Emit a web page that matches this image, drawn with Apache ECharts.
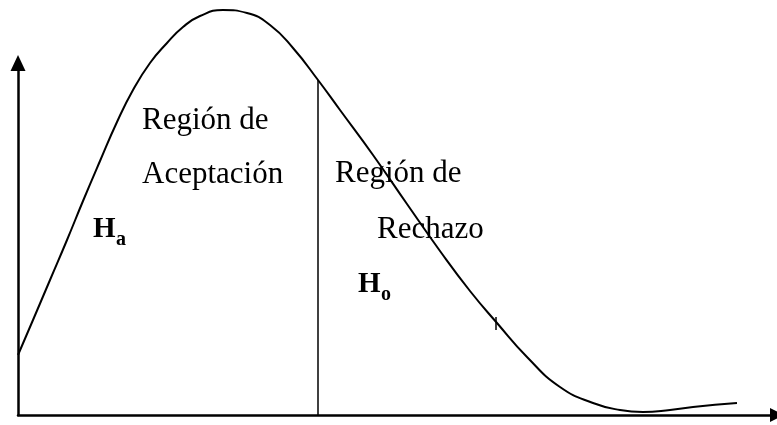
<!DOCTYPE html>
<html>
<head>
<meta charset="utf-8">
<script src="https://cdn.jsdelivr.net/npm/echarts@6/dist/echarts.min.js"></script>
<style>
  html, body {margin: 0; padding: 0; background: #fff;}
  #chart {width: 777px; height: 425px;}
</style>
</head>
<body>
<div id="chart"></div>
<script>
// curve: [x, y], origin at the axes corner
let curveX = [0, 15, 32, 49, 65, 82, 99, 115, 132, 149, 165, 182, 205, 229, 252, 275, 300, 322, 355, 389, 422, 452, 479, 509, 542, 575, 602, 625, 652, 675, 719]
let curveY = [60, 95, 135, 175, 214, 254, 293, 325, 352, 372, 388, 399, 405, 402, 390, 367, 335, 305, 260, 211, 164, 124, 92, 58, 28, 12, 5, 3, 5, 8, 12]

// critical value line and the small tick on the curve
let criticalX = 300
let criticalTop = 335
let tickX = 478
let tickY = [85, 98]

// annotations: text, data x, data y (baseline)
let labels = [
    {text: 'Región de', x: 124, y: 282},
    {text: 'Aceptación', x: 124, y: 228},
    {text: 'Región de', x: 317, y: 229},
    {text: 'Rechazo', x: 359, y: 173},
]
let hyps = [
    {main: 'H', sub: 'a', x: 75, y: 173},
    {main: 'H', sub: 'o', x: 340, y: 118},
]

let chart = echarts.init(document.getElementById('chart'))

let curve = curveX.map((x, i) => [x, curveY[i]])

let axisLine = (size) => ({
    show: true,
    symbol: ['none', 'triangle'],
    symbolSize: size,
    lineStyle: {color: '#000', width: 2.5},
})

chart.setOption({
    animation: false,
    grid: {left: 18, right: 0, top: 63, bottom: 10},
    xAxis: {
        type: 'value', min: 0, max: 759,
        axisLine: axisLine([14, 14]),
        axisTick: {show: false}, axisLabel: {show: false}, splitLine: {show: false},
    },
    yAxis: {
        type: 'value', min: 0, max: 352,
        axisLine: axisLine([15, 16]),
        axisTick: {show: false}, axisLabel: {show: false}, splitLine: {show: false},
    },
    series: [
        {
            type: 'line',
            data: curve,
            smooth: 0.5,
            clip: false,
            showSymbol: false,
            lineStyle: {color: '#000', width: 2},
            markLine: {
                silent: true,
                symbol: 'none',
                label: {show: false},
                lineStyle: {color: '#000', type: 'solid', width: 1.5},
                data: [
                    [{coord: [criticalX, 0]}, {coord: [criticalX, criticalTop]}],
                    [{coord: [tickX, tickY[0]]}, {coord: [tickX, tickY[1]]}],
                ],
            },
        },
    ],
})

let px = (x, y) => chart.convertToPixel({gridIndex: 0}, [x, y])
let serif = '"Liberation Serif", "Times New Roman", serif'
let graphics = []

labels.forEach(l => {
    let [gx, gy] = px(l.x, l.y)
    graphics.push({
        type: 'text', left: gx, top: gy - 28,
        style: {text: l.text, font: '31px ' + serif, fill: '#000'},
    })
})

hyps.forEach(h => {
    let [gx, gy] = px(h.x, h.y)
    graphics.push({
        type: 'text', left: gx, top: gy - 27,
        style: {text: h.main, font: 'bold 29px ' + serif, fill: '#000'},
    })
    graphics.push({
        type: 'text', left: gx + 23, top: gy - 12,
        style: {text: h.sub, font: 'bold 20px ' + serif, fill: '#000'},
    })
})

chart.setOption({graphic: graphics})
</script>
</body>
</html>
